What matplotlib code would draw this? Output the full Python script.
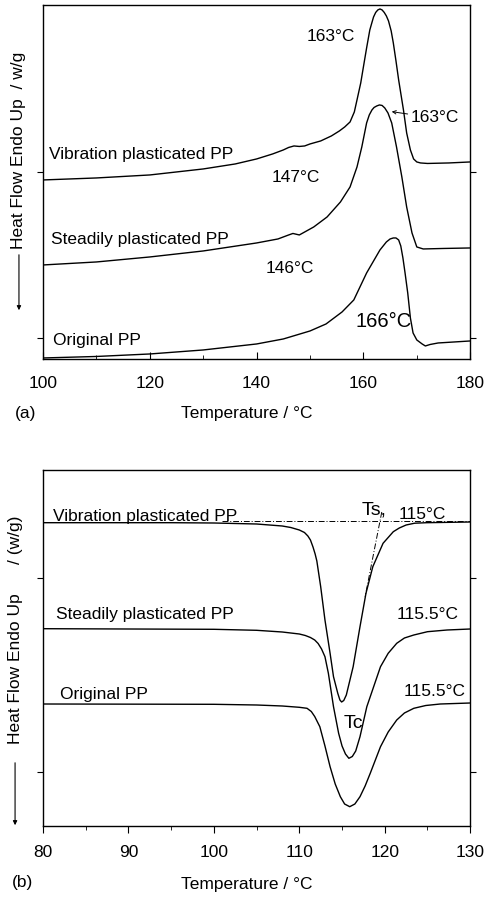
import matplotlib
matplotlib.use("Agg")
import matplotlib.pyplot as plt
from matplotlib.ticker import MultipleLocator, NullFormatter

plt.rcParams['font.family'] = ['Liberation Sans', 'DejaVu Sans']

# ---- panel (a): melting curves, heat flow (arbitrary units) vs temperature
a_vib_T = [100, 110, 120, 130, 136, 140, 143, 145, 146, 147, 148, 149, 150, 152, 154, 155.5,
           156.5, 157.5, 158.3, 158.8, 159.5, 160, 160.6, 161.2, 161.6, 161.9, 162.3, 162.7,
           163.1, 163.5, 163.9, 164.3, 164.7, 165.2, 165.6, 166.1, 166.6, 167.5, 168.1, 168.8,
           169.4, 170, 170.7, 172, 176, 180]
a_vib_H = [179, 181, 184, 190, 195, 200, 205, 209, 211.5, 213, 212.5, 213, 215, 218, 223, 228,
           232, 237, 247, 259, 276, 292, 311, 329, 336.5, 342, 346.5, 349,
           350, 349, 346.5, 343, 338, 328, 316, 298, 279, 249, 226, 209,
           200, 197, 196, 195.5, 196, 197]

a_std_T = [100, 110, 120, 130, 140, 144, 146, 146.8, 148, 150.7, 153.2, 155.7, 157.5, 158.8,
           159.7, 160.6, 161.1, 161.6, 162.0, 162.5, 163, 163.5, 164, 164.6, 165.3, 166.2,
           167.2, 168.1, 169.1, 170, 171.2, 175, 180]
a_std_H = [94, 97, 102, 108, 116, 120, 124, 125.5, 124, 132, 142, 157, 172, 192,
           212, 236, 244, 249, 251.5, 253, 254, 253.5, 251, 246, 236, 212,
           182, 152, 126, 112, 110, 110.5, 111]

a_org_T = [100, 110, 120, 130, 140, 145, 150, 153, 156, 158.2, 160.6, 163.1, 164.3, 165,
           165.6, 166.1, 166.6, 167, 167.4, 167.8, 168.3, 168.8, 169.3, 170, 171, 171.6, 172.5,
           174, 177, 180]
a_org_H = [1, 2.5, 5, 9, 15, 20, 28, 35, 47, 59, 86, 109, 117, 120,
           121, 121, 119, 113, 101, 86, 66, 41, 26, 19, 15, 13, 14.5,
           16, 17, 18]

# ---- panel (b): crystallization curves
b_vib_T = [80, 95, 100, 105, 108, 109, 110, 110.6, 111, 111.3, 111.6, 111.85, 112.05, 112.5,
           113, 113.6, 114, 114.5, 114.75, 114.95, 115.2, 115.5, 116.3, 117.1, 117.8, 118.6,
           119.8, 121, 121.7, 122.5, 123.5, 124.9, 130]
b_vib_H = [303.3, 303.3, 303, 302, 300, 298.5, 296, 293.5, 290, 286, 279, 272, 265, 239.3,
           206, 172.7, 149.3, 132.7, 126, 124, 125.5, 131, 159.3, 199.3, 232.7, 259.3,
           282.7, 294.3, 298, 301, 302.8, 303.3, 304]

b_std_T = [80, 100, 105, 108, 110, 110.7, 111.3, 111.8, 112.2, 112.6, 113, 113.4, 114, 114.6,
           115.0, 115.4, 115.8, 116.2, 116.6, 117.1, 117.9, 119.5, 120.4, 121.4, 122.3, 123.4,
           125, 127.3, 130]
b_std_H = [197.3, 196.7, 195.7, 194, 192, 190.5, 188.5, 186, 182.5, 177, 169.3, 152.7, 119.3,
           92.7, 80, 72, 67.7, 69.5, 75, 89.3, 119.3, 159.3, 172.7, 182.7, 188, 191,
           194.3, 196, 197]

b_org_T = [80, 100, 105, 108, 110, 110.9, 111.4, 111.8, 112.4, 113, 113.6, 114.2, 114.8, 115.3,
           115.9, 116.5, 117.1, 117.7, 118.3, 118.9, 119.5, 120.4, 121.4, 122.3, 123.4, 124.8,
           126.5, 130]
b_org_H = [122, 121.7, 121, 120, 118.7, 117.7, 114.5, 109.5, 99.3, 80, 59.3, 42, 29.3, 22,
           19.3, 22, 29.3, 40, 52.7, 66, 79.3, 94, 106, 113, 117.7, 120.5,
           122, 123]

# Ts construction lines (vibration plasticated PP)
ts_base_T = [101, 130]
ts_base_H = [304.7, 304.7]
ts_tan_T = [119.65, 117.7]
ts_tan_H = [314, 229.3]

a_xticks = [100, 120, 140, 160, 180]
b_xticks = [80, 90, 100, 110, 120, 130]
a_yticks = [21, 187]
b_yticks = [54, 248]

fig = plt.figure(figsize=(4.86, 8.99), dpi=100)
ax1 = fig.add_axes([0.0885, 0.6007, 0.879, 0.3938])
ax2 = fig.add_axes([0.0885, 0.0812, 0.879, 0.3960])

fs = 12.5
tfs = 12.5
lw = 1.0

# panel (a)
for T, H in [(a_vib_T, a_vib_H), (a_std_T, a_std_H), (a_org_T, a_org_H)]:
    ax1.plot(T, H, color='black', lw=lw)
ax1.set_xlim(100, 180)
ax1.set_ylim(0, 354)
ax1.set_xticks(a_xticks)
ax1.xaxis.set_minor_locator(MultipleLocator(10))
ax1.set_yticks(a_yticks)
ax1.yaxis.set_major_formatter(NullFormatter())
ax1.tick_params(axis='x', direction='in', length=5, labelsize=tfs, pad=12)
ax1.tick_params(axis='x', which='minor', direction='in', length=3)
ax1.tick_params(axis='y', direction='out', length=4, right=True)

ax1.text(101.1, 204, 'Vibration plasticated PP', fontsize=fs, va='center')
ax1.text(101.5, 119, 'Steadily plasticated PP', fontsize=fs, va='center')
ax1.text(101.9, 18, 'Original PP', fontsize=fs, va='center')
ax1.text(149.4, 322, '163°C', fontsize=fs, va='center')
ax1.text(142.9, 181, '147°C', fontsize=fs, va='center')
ax1.text(141.6, 90, '146°C', fontsize=fs, va='center')
ax1.text(158.5, 37, '166°C', fontsize=14.5, va='center')
ax1.annotate('163°C', xy=(165.3, 247.3), xytext=(168.8, 241), fontsize=fs, va='center',
             arrowprops=dict(arrowstyle='->', lw=0.7, color='black', shrinkA=0, shrinkB=0,
                             mutation_scale=6))

# panel (b)
for T, H in [(b_vib_T, b_vib_H), (b_std_T, b_std_H), (b_org_T, b_org_H)]:
    ax2.plot(T, H, color='black', lw=lw)
ax2.plot(ts_base_T, ts_base_H, color='black', lw=0.7, ls='-.', dashes=(6, 2, 1, 2))
ax2.plot(ts_tan_T, ts_tan_H, color='black', lw=0.7, ls='-.', dashes=(6, 2, 1, 2))
ax2.set_xlim(80, 130)
ax2.set_ylim(0, 356)
ax2.set_xticks(b_xticks)
ax2.xaxis.set_minor_locator(MultipleLocator(5))
ax2.set_yticks(b_yticks)
ax2.yaxis.set_major_formatter(NullFormatter())
ax2.tick_params(axis='x', direction='out', length=5, labelsize=tfs, pad=9)
ax2.tick_params(axis='x', which='minor', direction='out', length=3)
ax2.tick_params(axis='y', direction='out', length=4, right=True)

ax2.text(81.2, 309, 'Vibration plasticated PP', fontsize=fs, va='center')
ax2.text(81.5, 211, 'Steadily plasticated PP', fontsize=fs, va='center')
ax2.text(82.0, 131, 'Original PP', fontsize=fs, va='center')
ax2.text(117.3, 316, 'Ts,', fontsize=14, va='center')
ax2.text(121.6, 311, '115°C', fontsize=fs, va='center')
ax2.text(121.4, 211, '115.5°C', fontsize=fs, va='center')
ax2.text(122.2, 134, '115.5°C', fontsize=fs, va='center')
ax2.text(115.2, 103, 'Tc', fontsize=14, va='center')

for ax in (ax1, ax2):
    for s in ax.spines.values():
        s.set_linewidth(1.0)

# x labels and panel letters
fig.text(0.508, 1 - 413 / 899, 'Temperature / °C', fontsize=fs, ha='center', va='center')
fig.text(0.031, 1 - 413 / 899, '(a)', fontsize=fs, va='center')
fig.text(0.508, 1 - 884 / 899, 'Temperature / °C', fontsize=fs, ha='center', va='center')
fig.text(0.025, 1 - 882 / 899, '(b)', fontsize=fs, va='center')

# y labels with downward arrows
fig.text(0.039, 1 - 150 / 899, 'Heat Flow Endo Up  / w/g', fontsize=fs, rotation=90,
         ha='center', va='center')
fig.text(0.031, 1 - 630 / 899, 'Heat Flow Endo Up      / (w/g)', fontsize=fs, rotation=90,
         ha='center', va='center')
for x, y0, y1 in [(0.039, 1 - 252 / 899, 1 - 313 / 899), (0.031, 1 - 760 / 899, 1 - 828 / 899)]:
    fig.add_artist(matplotlib.patches.FancyArrowPatch((x, y0), (x, y1), transform=fig.transFigure,
                                                      arrowstyle='-|>', mutation_scale=6,
                                                      lw=0.8, color='black'))

fig.savefig('out.png', dpi=100)
